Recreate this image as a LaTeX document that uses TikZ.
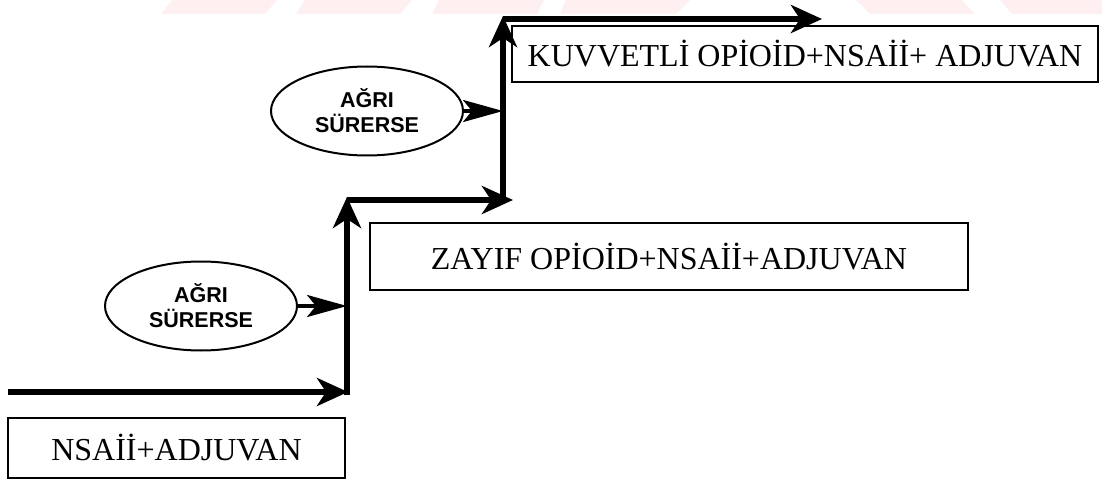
\documentclass[tikz,border=0pt]{standalone}
\usepackage{fontspec}
\setmainfont{Liberation Serif}
\newfontfamily\arialfont{Liberation Sans}
\usetikzlibrary{arrows.meta,shapes.geometric}
\definecolor{wmpink}{HTML}{FEEFF1}
\begin{document}
\begin{tikzpicture}[x=1pt,y=-1pt,
  flow/.style={line width=5.5pt, -{Stealth[length=31pt,width=28pt,inset=9pt]}},
  sarrow/.style={line width=3.5pt, -{Stealth[length=40pt,width=22pt,inset=9pt]}},
  stepbox/.style={draw, line width=2.4pt, inner sep=0pt, font=\fontsize{32}{38}\selectfont},
  cond/.style={ellipse, draw, line width=2pt, minimum width=192pt, minimum height=89pt,
    inner sep=0pt, align=center, font=\arialfont\bfseries\fontsize{21.5}{25}\selectfont},
  wm/.style={fill=wmpink, draw=none}]
\useasboundingbox (0,0) rectangle (1102,481);
% faint watermark bands at the top edge
\fill[wm] (172,0) -- (277,0) -- (265,14) -- (161,14) -- cycle;
\fill[wm] (305,0) -- (412,0) -- (400,14) -- (296,14) -- cycle;
\fill[wm] (439,0) -- (544,0) -- (537,14) -- (432,14) -- cycle;
\fill[wm] (566,0) -- (690,0) -- (676,14) -- (560,14) -- cycle;
\fill[wm] (856,0) -- (962,0) -- (975,14) -- (870,14) -- cycle;
\fill[wm] (1000,0) -- (1102,0) -- (1102,14) -- (1012,14) -- cycle;

% boxes
\node[stepbox, minimum width=337pt, minimum height=60pt] (b1) at (176.5,448) {NSAİİ+ADJUVAN};
\node[stepbox, minimum width=598pt, minimum height=67pt] (b2) at (669,256.5) {ZAYIF OPİOİD+NSAİİ+ADJUVAN};
\node[stepbox, minimum width=586pt, minimum height=56pt] (b3) at (805,54) {KUVVETLİ OPİOİD+NSAİİ+ ADJUVAN};

% condition ellipses
\node[cond] (e1) at (201,306) {AĞRI\\SÜRERSE};
\node[cond] (e2) at (367,111) {AĞRI\\SÜRERSE};

% staircase path
\coordinate (s0) at (8,392);
\coordinate (k1) at (348,392);
\coordinate (k1b) at (347,394.7);
\coordinate (k2) at (347,197);
\coordinate (k2b) at (347,200);
\coordinate (k3) at (513,200);
\coordinate (k3b) at (503,202.7);
\coordinate (k4) at (503,16);
\coordinate (k4b) at (503,19);
\coordinate (k5) at (822,19);

\draw[flow] (s0) -- (k1);
\draw[flow] (k1b) -- (k2);
\draw[flow] (k2b) -- (k3);
\draw[flow] (k3b) -- (k4);
\draw[flow] (k4b) -- (k5);

% arrows from the ellipses
\draw[sarrow] (e1.east) -- (e1.east -| k1b);
\draw[sarrow] (e2.east) -- (e2.east -| k3b);
\end{tikzpicture}
\end{document}
